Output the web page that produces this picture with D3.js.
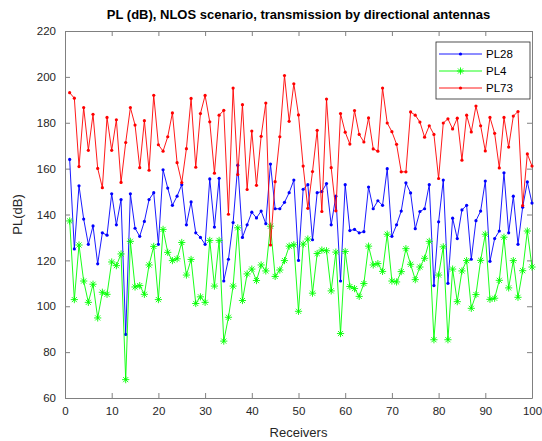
<!DOCTYPE html>
<html>
<head>
<meta charset="utf-8">
<script src="https://cdn.jsdelivr.net/npm/d3@7"></script>
<style>
  body { margin: 0; background: #fff; }
  text { font-family: "Liberation Sans", Arial, sans-serif; }
</style>
</head>
<body>
<div id="chart"></div>
<script>
// receivers 1..100
const receivers = d3.range(1, 101);

const pl28 = [164, 125, 152.5, 138, 127, 135, 118.5, 132, 131, 149,
  135.5, 146.5, 87.7, 149, 134, 130.5, 137, 146.5, 149.5, 127,
  159.5, 151.5, 144, 148, 153, 135.5, 145.5, 132, 130, 127,
  155.5, 134.5, 155.8, 111, 120.5, 136.5, 161.5, 130, 135.5, 141,
  138.5, 141.5, 136, 162, 142.5, 142.5, 145.3, 149.5, 155, 120,
  151, 153, 129, 149.5, 150, 153.5, 135.5, 148, 111, 153,
  133, 133.5, 132, 132.5, 152, 142.5, 146, 144, 160, 130.5,
  135.5, 141.5, 153.8, 149.4, 133.8, 141.3, 142.5, 153, 109, 136.8,
  155, 110, 138.4, 129.5, 142, 144, 120.5, 137.3, 141.5, 154.6,
  119.6, 129.5, 132.8, 158.2, 132, 148, 127, 143.2, 154.2, 145];

const pl4 = [137.2, 102.9, 126.7, 111, 101.7, 109.6, 94.9, 106.1, 105.2, 119.3,
  117.7, 122.8, 68, 128.3, 108.4, 109, 105.2, 118, 126.1, 102.9,
  133.5, 123.5, 119.9, 120.7, 127.8, 113.6, 120.4, 101.2, 104.1, 101.7,
  128.7, 108.8, 128.7, 84.8, 95.2, 108.8, 134.2, 102.5, 114.1, 116.2,
  111.2, 118, 115.4, 134.9, 113, 115.8, 119.9, 126.2, 126.8, 97.8,
  127.1, 129.3, 105.7, 123, 124.5, 124.2, 106.7, 123.6, 88.1, 123.9,
  108.6, 107.7, 104.3, 109.9, 126.2, 118, 118.6, 115.2, 131.4, 111,
  110.6, 115.1, 125.1, 118.3, 111.6, 117.1, 120.9, 128.3, 85.4, 113.6,
  125.9, 85.4, 116.2, 102, 115.4, 119.9, 99.1, 105.1, 120, 131.4,
  103, 103.5, 111.3, 130.1, 108, 119.9, 103.9, 115.5, 132.8, 117.1];

const pl73 = [193.1, 190.7, 160.9, 186.6, 168, 183.7, 160.1, 151.7, 182.3, 168,
  181.3, 154, 171.4, 186.6, 179, 160.4, 180.9, 159.3, 192, 170.4,
  167.6, 173.9, 184.3, 162.6, 153.9, 168.7, 190.6, 160.6, 184, 191.9,
  180.4, 158, 183.3, 185.4, 140.1, 195.1, 157.4, 187.9, 150.9, 176.4,
  152.7, 174.1, 188.6, 126.7, 154.3, 173.9, 200.6, 180.6, 197, 183.4,
  161.1, 142.7, 158.7, 176.7, 141.3, 190.3, 160.4, 141.6, 184, 175.9,
  170.7, 185.3, 174.9, 171.6, 182.1, 168.6, 167.6, 195.1, 179.9, 176.1,
  170.6, 158.6, 158.6, 184.7, 183.3, 180.3, 173.7, 178.7, 174.9, 155.7,
  179.9, 181.7, 177.3, 182, 163.7, 183.3, 176, 187.3, 178.7, 167.7,
  182.3, 175.4, 160.3, 182.3, 169.4, 182.9, 184.9, 143.9, 166.4, 161.1];

const seriesNames = ['PL28', 'PL4', 'PL73'];
const seriesColors = ['#0000ff', '#00ff00', '#ff0000'];
const xTicks = [0, 10, 20, 30, 40, 50, 60, 70, 80, 90, 100];
const yTicks = [60, 80, 100, 120, 140, 160, 180, 200, 220];

const width = 542, height = 441;
const margin = {top: 31, right: 10, bottom: 43, left: 65};
const plotWidth = width - margin.left - margin.right;
const plotHeight = height - margin.top - margin.bottom;
const axisColor = '#808080';
const textColor = '#262626';

const svg = d3.select('#chart').append('svg')
    .attr('width', width)
    .attr('height', height);

const g = svg.append('g')
    .attr('transform', `translate(${margin.left},${margin.top})`);

const xScale = d3.scaleLinear().domain([0, 100]).range([0, plotWidth]);
const yScale = d3.scaleLinear().domain([60, 220]).range([plotHeight, 0]);

// asterisk like matlab '*'
function star(s) {
    const d = s * 0.707;
    return `M${-s},0L${s},0M0,${-s}L0,${s}M${-d},${-d}L${d},${d}M${-d},${d}L${d},${-d}`;
}

// axes, ticks inside on all four sides
function styleAxis(sel) {
    sel.select('.domain').attr('stroke', axisColor);
    sel.selectAll('.tick line').attr('stroke', axisColor);
    sel.selectAll('.tick text').attr('fill', textColor).attr('font-size', 11.5);
}

g.append('g')
    .attr('transform', `translate(0,${plotHeight})`)
    .call(d3.axisBottom(xScale).tickValues(xTicks).tickSizeInner(-5).tickSizeOuter(0).tickPadding(9))
    .call(styleAxis);

g.append('g')
    .call(d3.axisLeft(yScale).tickValues(yTicks).tickSizeInner(-5).tickSizeOuter(0).tickPadding(9))
    .call(styleAxis);

g.append('g')
    .call(d3.axisTop(xScale).tickValues(xTicks).tickSizeInner(-5).tickSizeOuter(0).tickFormat(''))
    .call(styleAxis);

g.append('g')
    .attr('transform', `translate(${plotWidth},0)`)
    .call(d3.axisRight(yScale).tickValues(yTicks).tickSizeInner(-5).tickSizeOuter(0).tickFormat(''))
    .call(styleAxis);

// series
const allSeries = [pl28, pl4, pl73];
const line = d3.line()
    .x((d, i) => xScale(receivers[i]))
    .y(d => yScale(d));

allSeries.forEach((vals, k) => {
    g.append('path')
        .datum(vals)
        .attr('fill', 'none')
        .attr('stroke', seriesColors[k])
        .attr('stroke-width', 0.9)
        .attr('d', line);

    if (k === 1) {
        g.selectAll('.star')
            .data(vals)
            .enter()
            .append('path')
                .attr('transform', (d, i) => `translate(${xScale(receivers[i])},${yScale(d)})`)
                .attr('d', star(3.6))
                .attr('stroke', seriesColors[k])
                .attr('stroke-width', 0.9)
                .attr('fill', 'none');
    } else {
        g.selectAll('.dot' + k)
            .data(vals)
            .enter()
            .append('circle')
                .attr('cx', (d, i) => xScale(receivers[i]))
                .attr('cy', d => yScale(d))
                .attr('r', 1.6)
                .attr('fill', seriesColors[k]);
    }
});

// legend, top right
const legend = g.append('g')
    .attr('transform', `translate(${plotWidth - 96},11)`);

legend.append('rect')
    .attr('width', 94)
    .attr('height', 57)
    .attr('fill', '#fff')
    .attr('stroke', '#262626')
    .attr('stroke-width', 0.8);

seriesNames.forEach((name, k) => {
    const y = 12 + k * 17;
    legend.append('line')
        .attr('x1', 3).attr('x2', 46)
        .attr('y1', y).attr('y2', y)
        .attr('stroke', seriesColors[k])
        .attr('stroke-width', 0.9);
    if (k === 1) {
        legend.append('path')
            .attr('transform', `translate(24.5,${y})`)
            .attr('d', star(3.6))
            .attr('stroke', seriesColors[k])
            .attr('stroke-width', 0.9);
    } else {
        legend.append('circle')
            .attr('cx', 24.5).attr('cy', y).attr('r', 1.6)
            .attr('fill', seriesColors[k]);
    }
    legend.append('text')
        .attr('x', 50)
        .attr('y', y)
        .attr('dy', '0.35em')
        .attr('font-size', 11.5)
        .attr('fill', '#000')
        .text(name);
});

// labels
svg.append('text')
    .attr('x', margin.left + plotWidth / 2)
    .attr('y', 19)
    .attr('text-anchor', 'middle')
    .attr('font-size', 13)
    .attr('font-weight', 'bold')
    .attr('fill', '#000')
    .text('PL (dB), NLOS scenario, transmission by directional antennas');

svg.append('text')
    .attr('x', margin.left + plotWidth / 2)
    .attr('y', 437)
    .attr('text-anchor', 'middle')
    .attr('font-size', 13)
    .attr('fill', textColor)
    .text('Receivers');

svg.append('text')
    .attr('transform', `translate(22,${margin.top + plotHeight / 2}) rotate(-90)`)
    .attr('text-anchor', 'middle')
    .attr('font-size', 13)
    .attr('fill', textColor)
    .text('PL(dB)');
</script>
</body>
</html>
